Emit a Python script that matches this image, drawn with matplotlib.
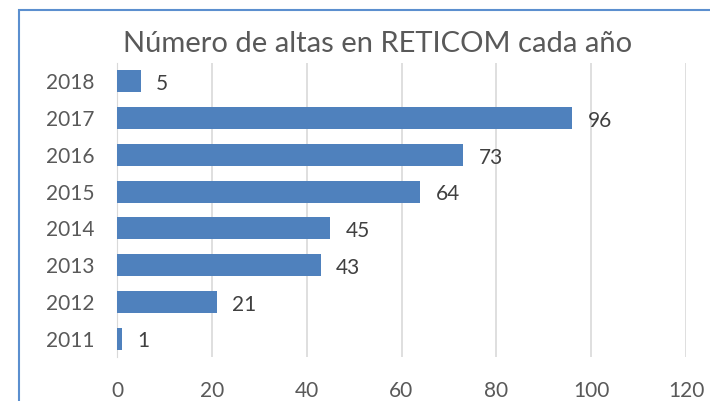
import matplotlib.pyplot as plt
from matplotlib.patches import Rectangle

years = ['2011', '2012', '2013', '2014', '2015', '2016', '2017', '2018']
altas = [1, 21, 43, 45, 64, 73, 96, 5]
x_ticks = [0, 20, 40, 60, 80, 100, 120]

W, H = 710, 401
plt.rcParams['font.family'] = ['Lato', 'DejaVu Sans']

fig = plt.figure(figsize=(W / 100, H / 100), dpi=100)
ax = fig.add_axes([117 / W, 1 - 357 / H, (686 - 117) / W, (357 - 63) / H])

ax.barh(years, altas, height=0.6, color='#4F81BD', zorder=3)
for i, v in enumerate(altas):
    ax.annotate(str(v), (v, i), xytext=(11, -2), textcoords='offset points',
                ha='left', va='center', fontsize=15, color='#404040')

ax.set_xlim(0, 120)
ax.set_ylim(-0.5, 7.5)
ax.set_xticks(x_ticks)
ax.xaxis.grid(True, color='#D9D9D9', linewidth=1.2, zorder=0)
for s in ax.spines.values():
    s.set_visible(False)
ax.spines['left'].set_visible(True)
ax.spines['left'].set_color('#D9D9D9')
ax.tick_params(axis='both', length=0, labelsize=15, colors='#595959')
ax.tick_params(axis='x', pad=17)
ax.tick_params(axis='y', pad=16)

fig.text(378 / W, 1 - 44 / H, 'Número de altas en RETICOM cada año',
         ha='center', va='center', fontsize=21, color='#595959')

fig.patches.append(Rectangle((19 / W, -0.05), 1.1, 1 - 10 / H + 0.05,
                             transform=fig.transFigure, fill=False,
                             edgecolor='#5B8FCF', linewidth=1.5))

fig.savefig('out.png', dpi=100)
